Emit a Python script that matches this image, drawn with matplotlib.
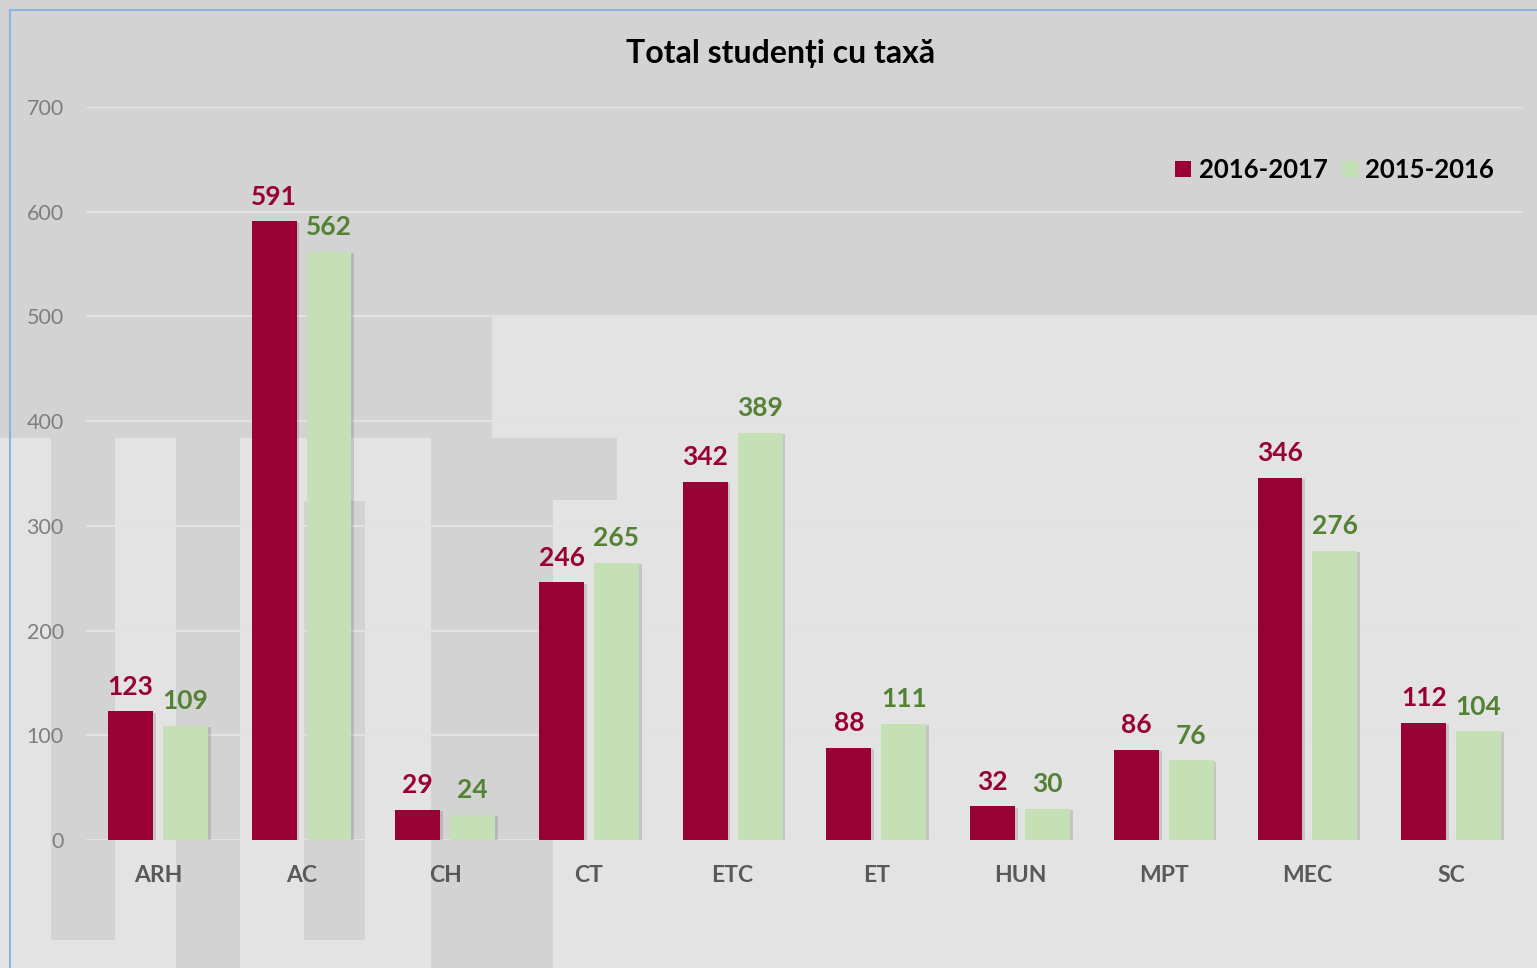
import matplotlib
matplotlib.use("Agg")
import matplotlib.pyplot as plt
import matplotlib.patheffects as pe
from matplotlib.patches import Rectangle
import numpy as np

# ---- data ----
categories = ["ARH", "AC", "CH", "CT", "ETC", "ET", "HUN", "MPT", "MEC", "SC"]
series_2016_2017 = [123, 591, 29, 246, 342, 88, 32, 86, 346, 112]
series_2015_2016 = [109, 562, 24, 265, 389, 111, 30, 76, 276, 104]
series_names = ["2016-2017", "2015-2016"]
yticks = [0, 100, 200, 300, 400, 500, 600, 700]
title = "Total studenți cu taxă"

# ---- style ----
FONT = ["Lato", "DejaVu Sans"]
plt.rcParams["font.family"] = FONT
RED = "#990033"
GREEN_BAR = "#C5E0B4"
GREEN_TXT = "#548235"
DARK_BG = "#D3D3D3"
LIGHT_BG = "#E3E3E3"

W, H = 1537, 968
fig = plt.figure(figsize=(W / 100, H / 100), dpi=100)
fig.patch.set_facecolor(DARK_BG)

# background watermark (decoration) in pixel coordinates
bg = fig.add_axes([0, 0, 1, 1], zorder=0)
bg.set_xlim(0, W)
bg.set_ylim(H, 0)
bg.axis("off")
def rect(x0, y0, x1, y1, c):
    bg.add_patch(Rectangle((x0, y0), x1 - x0, y1 - y0, facecolor=c, edgecolor="none"))
rect(0, 438, W, H, LIGHT_BG)
rect(492, 315, W, 438, LIGHT_BG)
# darker watermark strokes
rect(51, 438, 115, 940, DARK_BG)
rect(176, 438, 240, H, DARK_BG)
rect(304, 501, 365, 940, DARK_BG)
rect(431, 438, 553, H, DARK_BG)
rect(553, 438, 617, 500, DARK_BG)
# border
bg.plot([10, 10], [H, 10], color="#8DB3E2", lw=1.5)
bg.plot([10, W], [10, 10], color="#8DB3E2", lw=1.5)

# main axes
ax = fig.add_axes([86 / W, 1 - 840 / H, (1523 - 86) / W, (840 - 107) / H], zorder=1)
ax.set_facecolor("none")
x = np.arange(len(categories))
bw = 0.313
off = 0.191
shadow = [pe.withSimplePatchShadow(offset=(2, -1), shadow_rgbFace="black", alpha=0.13)]
ax.bar(x - off, series_2016_2017, bw, color=RED, label=series_names[0], zorder=3,
       path_effects=shadow)
ax.bar(x + off, series_2015_2016, bw, color=GREEN_BAR, label=series_names[1], zorder=3,
       path_effects=shadow)

for xi, v in zip(x - off, series_2016_2017):
    ax.annotate(str(v), (xi, v), xytext=(0, 9), textcoords="offset points",
                ha="center", va="bottom", fontsize=19, fontweight="bold", color=RED)
for xi, v in zip(x + off, series_2015_2016):
    ax.annotate(str(v), (xi, v), xytext=(0, 9), textcoords="offset points",
                ha="center", va="bottom", fontsize=19, fontweight="bold", color=GREEN_TXT)

ax.set_xlim(-0.5, len(categories) - 0.5)
ax.set_ylim(0, 700)
ax.set_yticks(yticks)
ax.set_xticks(x)
ax.set_xticklabels(categories, fontsize=16.5, fontweight="bold", color="#595959")
ax.tick_params(axis="x", length=0, pad=18)
ax.tick_params(axis="y", length=0, pad=16, labelsize=15.5, labelcolor="#7F7F7F")
ax.grid(axis="y", color="#E2E2E2", lw=1.5, zorder=0)
ax.set_axisbelow(True)
for s in ax.spines.values():
    s.set_visible(False)

leg = ax.legend(loc="upper right", bbox_to_anchor=(0.996, 0.962), ncol=2, frameon=False,
                prop={"family": FONT, "weight": "bold", "size": 18.5},
                handlelength=0.62, handleheight=0.62, handletextpad=0.3, columnspacing=0.55)
for h in leg.legend_handles:
    h.set_path_effects([])

fig.text(781 / W, 1 - 54 / H, title, ha="center", va="center", fontsize=23,
         fontweight="bold", color="black", family=FONT)

fig.savefig("out.png", dpi=100, facecolor=fig.get_facecolor())
